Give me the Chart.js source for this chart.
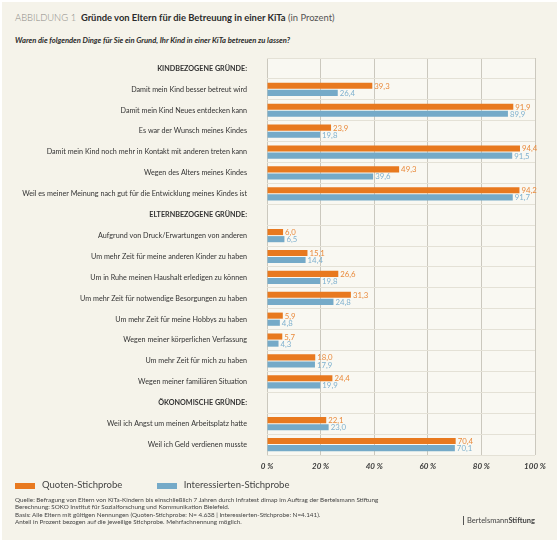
<!DOCTYPE html>
<html lang="de">
<head>
  <meta charset="UTF-8">
  <title>Gründe von Eltern für die Betreuung in einer KiTa</title>
  <script src="https://cdn.jsdelivr.net/npm/chart.js"></script>
  <style>
    html, body {
      margin: 0;
      padding: 0;
      background: #fff;
    }
    /* cream panel behind everything */
    .panel {
      position: absolute;
      left: 2px;
      top: 2px;
      width: 555px;
      height: 538px;
      background: #f5f3ea;
      font-family: Lato, "Open Sans", sans-serif;
      color: #333;
    }
    .title {
      position: absolute;
      left: 13px;
      top: 10px;
      font-size: 9.4px;
      white-space: nowrap;
    }
    .title .fig { color: #8a8a85; font-weight: 300; }
    .title b { color: #2b2b2b; }
    .title .unit { color: #555; }
    .question {
      position: absolute;
      left: 13px;
      top: 33px;
      font-size: 7.6px;
      font-weight: bold;
      font-style: italic;
      color: #2b2b2b;
      white-space: nowrap;
    }
    .chart-box {
      position: absolute;
      left: -2px;
      top: 48px;
      width: 559px;
      height: 430px;
    }
    .legend {
      position: absolute;
      left: 13px;
      top: 477px;
      font-size: 9.5px;
      color: #444;
      white-space: nowrap;
    }
    .legend span.sw {
      display: inline-block;
      width: 20px;
      height: 6px;
      vertical-align: middle;
      margin-right: 7px;
    }
    .legend .item { display: inline-block; margin-right: 32px; }
    .notes {
      position: absolute;
      left: 13px;
      top: 494px;
      font-size: 6.3px;
      line-height: 7.4px;
      color: #444;
      white-space: nowrap;
    }
    .logo {
      position: absolute;
      left: 461px;
      top: 514px;
      font-size: 7.5px;
      color: #444;
      border-left: 1px solid #555;
      padding-left: 3px;
      white-space: nowrap;
    }
  </style>
</head>
<body>
  <div class="panel">
    <div class="title"><span class="fig">ABBILDUNG 1</span>&nbsp; <b>Gründe von Eltern für die Betreuung in einer KiTa</b> <span class="unit">(in Prozent)</span></div>
    <div class="question">Waren die folgenden Dinge für Sie ein Grund, Ihr Kind in einer KiTa betreuen zu lassen?</div>
    <div class="chart-box"><canvas id="kitaChart"></canvas></div>
    <div class="legend">
      <span class="item"><span class="sw" style="background:#e8791f"></span>Quoten-Stichprobe</span>
      <span class="item"><span class="sw" style="background:#75aac8"></span>Interessierten-Stichprobe</span>
    </div>
    <div class="notes">
      Quelle: Befragung von Eltern von KiTa-Kindern bis einschließlich 7 Jahren durch Infratest dimap im Auftrag der Bertelsmann Stiftung<br>
      Berechnung: SOKO Institut für Sozialforschung und Kommunikation Bielefeld.<br>
      Basis: Alle Eltern mit gültigen Nennungen (Quoten-Stichprobe: N= 4.638 | Interessierten-Stichprobe: N=4.141).<br>
      Anteil in Prozent bezogen auf die jeweilige Stichprobe. Mehrfachnennung möglich.
    </div>
    <div class="logo">Bertelsmann<b>Stiftung</b></div>
  </div>

  <script>
    // categories (rows ending in ":" are group headings without bars)
    const categories = [
      'KINDBEZOGENE GRÜNDE:',
      'Damit mein Kind besser betreut wird',
      'Damit mein Kind Neues entdecken kann',
      'Es war der Wunsch meines Kindes',
      'Damit mein Kind noch mehr in Kontakt mit anderen treten kann',
      'Wegen des Alters meines Kindes',
      'Weil es meiner Meinung nach gut für die Entwicklung meines Kindes ist',
      'ELTERNBEZOGENE GRÜNDE:',
      'Aufgrund von Druck/Erwartungen von anderen',
      'Um mehr Zeit für meine anderen Kinder zu haben',
      'Um in Ruhe meinen Haushalt erledigen zu können',
      'Um mehr Zeit für notwendige Besorgungen zu haben',
      'Um mehr Zeit für meine Hobbys zu haben',
      'Wegen meiner körperlichen Verfassung',
      'Um mehr Zeit für mich zu haben',
      'Wegen meiner familiären Situation',
      'ÖKONOMISCHE GRÜNDE:',
      'Weil ich Angst um meinen Arbeitsplatz hatte',
      'Weil ich Geld verdienen musste'
    ];
    const quotenValues = [null, 39.3, 91.9, 23.9, 94.4, 49.3, 94.2, null, 6.0, 15.1, 26.6, 31.3, 5.9, 5.7, 18.0, 24.4, null, 22.1, 70.4];
    const interessiertenValues = [null, 26.4, 89.9, 19.8, 91.5, 39.6, 91.7, null, 6.5, 14.4, 19.8, 24.8, 4.8, 4.3, 17.9, 19.9, null, 23.0, 70.1];
    const xTicks = [0, 20, 40, 60, 80, 100];

    const isHeading = i => categories[i].endsWith(':');

    // light panel behind the plot area
    const plotBg = {
      id: 'plotBg',
      beforeDraw(chart) {
        const a = chart.chartArea;
        const ctx = chart.ctx;
        ctx.save();
        ctx.fillStyle = '#f9f8f2';
        ctx.fillRect(a.left, a.top, a.right - a.left, a.bottom - a.top);
        ctx.restore();
      }
    };

    // value labels at the end of each bar, German decimal comma
    const valueLabels = {
      id: 'valueLabels',
      afterDatasetsDraw(chart) {
        const ctx = chart.ctx;
        ctx.save();
        ctx.font = '7.8px Lato, sans-serif';
        ctx.textBaseline = 'middle';
        ctx.textAlign = 'left';
        chart.data.datasets.forEach((ds, di) => {
          const meta = chart.getDatasetMeta(di);
          ctx.fillStyle = ds.labelColor;
          meta.data.forEach((bar, i) => {
            const v = ds.data[i];
            if (v === null) return;
            ctx.fillText(v.toFixed(1).replace('.', ','), bar.x + 2, bar.y + 0.5);
          });
        });
        ctx.restore();
      }
    };

    new Chart(document.getElementById('kitaChart'), {
      type: 'bar',
      data: {
        labels: categories,
        datasets: [
          {
            label: 'Quoten-Stichprobe',
            data: quotenValues,
            backgroundColor: '#e8791f',
            labelColor: '#e98a3c',
            categoryPercentage: 0.68,
            barPercentage: 0.86
          },
          {
            label: 'Interessierten-Stichprobe',
            data: interessiertenValues,
            backgroundColor: '#75aac8',
            labelColor: '#7fb1cf',
            categoryPercentage: 0.68,
            barPercentage: 0.86
          }
        ]
      },
      options: {
        indexAxis: 'y',
        responsive: true,
        maintainAspectRatio: false,
        animation: false,
        layout: { padding: { top: 8, right: 24, bottom: 0, left: 0 } },
        plugins: {
          legend: { display: false },
          tooltip: { enabled: false }
        },
        scales: {
          x: {
            min: 0,
            max: 100,
            afterBuildTicks: scale => { scale.ticks = xTicks.map(v => ({ value: v })); },
            afterFit: scale => { scale.height = 25; scale.paddingLeft = 0; scale.paddingRight = 0; },
            border: { display: false },
            grid: { color: '#cbc8be', drawTicks: false },
            ticks: {
              padding: 7,
              color: '#3a3a3a',
              font: { family: 'Lato', size: 8, weight: 'bold', style: 'italic' },
              callback: v => v + ' %'
            }
          },
          y: {
            afterFit: scale => { scale.width = 267; scale.paddingTop = 0; scale.paddingBottom = 0; },
            border: { display: false },
            grid: { color: '#e4e1d6', drawTicks: false, offset: true },
            ticks: {
              padding: 20,
              autoSkip: false,
              color: '#333',
              font: ctx => isHeading(ctx.index)
                ? { family: 'Lato', size: 7.2, weight: 'bold' }
                : { family: 'Lato', size: 7.2 }
            }
          }
        }
      },
      plugins: [plotBg, valueLabels]
    });
  </script>
</body>
</html>
